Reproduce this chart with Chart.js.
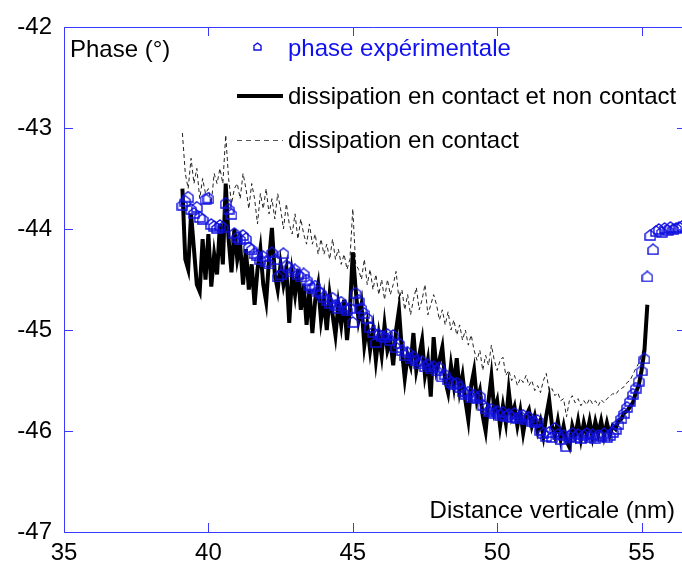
<!DOCTYPE html>
<html>
<head>
<meta charset="utf-8">
<script src="https://cdn.jsdelivr.net/npm/chart.js@4"></script>
<style>
  html, body { margin: 0; padding: 0; background: #fff; }
  canvas { display: block; }
</style>
</head>
<body>
<canvas id="phaseChart" width="682" height="568"></canvas>
<script>
// distance (nm), one value every 0.1 nm
const distance = [
  39.1, 39.2, 39.3, 39.4, 39.5, 39.6, 39.7, 39.8, 39.9, 40.0,
  40.1, 40.2, 40.3, 40.4, 40.5, 40.6, 40.7, 40.8, 40.9, 41.0,
  41.1, 41.2, 41.3, 41.4, 41.5, 41.6, 41.7, 41.8, 41.9, 42.0,
  42.1, 42.2, 42.3, 42.4, 42.5, 42.6, 42.7, 42.8, 42.9, 43.0,
  43.1, 43.2, 43.3, 43.4, 43.5, 43.6, 43.7, 43.8, 43.9, 44.0,
  44.1, 44.2, 44.3, 44.4, 44.5, 44.6, 44.7, 44.8, 44.9, 45.0,
  45.1, 45.2, 45.3, 45.4, 45.5, 45.6, 45.7, 45.8, 45.9, 46.0,
  46.1, 46.2, 46.3, 46.4, 46.5, 46.6, 46.7, 46.8, 46.9, 47.0,
  47.1, 47.2, 47.3, 47.4, 47.5, 47.6, 47.7, 47.8, 47.9, 48.0,
  48.1, 48.2, 48.3, 48.4, 48.5, 48.6, 48.7, 48.8, 48.9, 49.0,
  49.1, 49.2, 49.3, 49.4, 49.5, 49.6, 49.7, 49.8, 49.9, 50.0,
  50.1, 50.2, 50.3, 50.4, 50.5, 50.6, 50.7, 50.8, 50.9, 51.0,
  51.1, 51.2, 51.3, 51.4, 51.5, 51.6, 51.7, 51.8, 51.9, 52.0,
  52.1, 52.2, 52.3, 52.4, 52.5, 52.6, 52.7, 52.8, 52.9, 53.0,
  53.1, 53.2, 53.3, 53.4, 53.5, 53.6, 53.7, 53.8, 53.9, 54.0,
  54.1, 54.2, 54.3, 54.4, 54.5, 54.6, 54.7, 54.8, 54.9, 55.0,
  55.1, 55.2, 55.3, 55.4, 55.5, 55.6, 55.7, 55.8, 55.9, 56.0,
  56.1, 56.2, 56.3, 56.4
];

// phase expérimentale (°)
const phaseExp = [
  -43.76, -43.72, -43.68, -43.80, -43.84, -43.78, -43.88, -43.90, -43.70, -43.69,
  -43.95, -43.97, -43.99, -43.96, -43.98, -43.74, -43.80, -43.85, -44.04, -44.08,
  -44.10, -44.06, -44.09, -44.18, -44.20, -44.24, -44.26, -44.30, -44.27, -44.32,
  -44.34, -44.23, -44.30, -44.47, -44.45, -44.24, -44.36, -44.38, -44.42, -44.40,
  -44.45, -44.47, -44.44, -44.50, -44.55, -44.58, -44.56, -44.61, -44.63, -44.67,
  -44.70, -44.73, -44.68, -44.75, -44.78, -44.72, -44.76, -44.80, -44.78, -44.92,
  -44.63, -44.70, -44.78, -44.83, -44.88, -44.97, -45.02, -45.12, -45.04, -45.06,
  -45.07, -45.04, -45.10, -45.05, -45.17, -45.13, -45.20, -45.25, -45.22, -45.28,
  -45.26, -45.30, -45.33, -45.31, -45.36, -45.34, -45.38, -45.36, -45.40, -45.37,
  -45.46, -45.44, -45.49, -45.51, -45.53, -45.52, -45.56, -45.60, -45.63, -45.61,
  -45.66, -45.64, -45.67, -45.65, -45.74, -45.77, -45.80, -45.78, -45.82, -45.80,
  -45.84, -45.81, -45.85, -45.83, -45.86, -45.82, -45.87, -45.85, -45.84, -45.88,
  -45.86, -45.90, -45.91, -45.89, -45.99, -46.02, -46.05, -46.01, -46.06, -45.97,
  -46.03, -46.08, -46.04, -46.15, -46.05, -46.02, -46.06, -46.03, -46.07, -46.04,
  -46.02, -46.06, -46.03, -46.07, -46.04, -46.05, -46.02, -46.06, -46.04, -46.01,
  -45.98, -45.93, -45.87, -45.82, -45.76, -45.70, -45.63, -45.57, -45.50, -45.40,
  -45.28, -44.47, -44.06, -44.20, -44.02, -44.00, -44.03, -43.99, -44.01, -43.98,
  -44.00, -43.99, -43.98, -43.97
];

// dissipation en contact et non contact (39.1 -> 55.2)
const dissFull = [
  -43.60, -44.30, -44.40, -43.85, -44.20, -44.55, -44.62, -44.10, -44.50, -44.05,
  -44.57, -44.25, -44.45, -43.95, -44.35, -43.55, -44.10, -44.43, -44.00, -44.30,
  -44.15, -44.55, -44.20, -44.60, -44.35, -44.75, -44.40, -44.20, -44.55, -44.72,
  -44.30, -43.99, -44.45, -44.60, -44.35, -44.55, -44.40, -44.93, -44.45, -44.65,
  -44.40, -44.80, -44.55, -44.95, -44.60, -45.03, -44.70, -44.55, -44.90, -44.70,
  -45.00, -44.65, -44.85, -45.05, -44.75, -44.95, -44.70, -45.10, -44.80, -44.23,
  -44.60, -44.90, -44.75, -45.15, -44.95, -45.20, -45.00, -45.30, -45.05, -45.25,
  -44.95, -45.20, -45.10, -45.35, -45.00, -44.80, -45.20, -45.48, -45.25, -45.35,
  -45.03, -45.40, -45.25, -45.10, -45.45, -45.30, -45.66, -45.07, -45.40, -45.30,
  -45.17, -45.50, -45.62, -45.35, -45.55, -45.28, -45.60, -45.45, -45.70, -45.89,
  -45.55, -45.40, -45.70, -45.60, -45.85, -46.00, -45.70, -45.46, -45.80, -45.70,
  -45.95, -45.75, -45.92, -45.60, -45.85, -45.76, -45.95, -45.80, -46.02, -45.85,
  -45.79, -45.95, -45.85, -46.00, -45.90, -46.05, -45.85, -45.69, -45.95, -46.05,
  -45.90, -46.08, -45.95, -46.10, -46.16, -45.95, -46.05, -45.90, -46.08, -45.92,
  -46.04, -45.90, -46.06, -45.91, -46.03, -45.90, -46.05, -45.92, -46.04, -45.95,
  -45.98, -45.90, -45.88, -45.82, -45.80, -45.76, -45.72, -45.62, -45.55, -45.40,
  -45.20, -44.75
];

// dissipation en contact (39.1 -> 55.1)
const dissContact = [
  -43.05, -43.45, -43.60, -43.30, -43.55, -43.40, -43.70, -43.50, -43.65, -43.60,
  -43.75, -43.45, -43.55, -43.40, -43.55, -43.07, -43.50, -43.75, -43.60, -43.55,
  -43.70, -43.45, -43.60, -43.80, -43.55, -43.70, -43.95, -43.65, -43.80, -43.60,
  -43.85, -43.70, -43.90, -43.65, -43.80, -44.00, -43.75, -43.95, -44.05, -43.85,
  -44.10, -43.90, -44.05, -44.15, -43.95, -44.15, -44.05, -44.25, -44.10, -44.25,
  -44.15, -44.30, -44.10, -44.30, -44.20, -44.35, -44.25, -44.40, -44.30, -43.80,
  -44.35, -44.40, -44.50, -44.30, -44.55, -44.40, -44.60, -44.45, -44.65, -44.50,
  -44.70, -44.50, -44.65, -44.55, -44.42, -44.70, -44.60, -44.80, -44.65, -44.85,
  -44.70, -44.58, -44.80, -44.70, -44.55, -44.85, -44.75, -44.65, -44.75, -44.90,
  -44.80, -44.95, -44.82, -45.00, -44.90, -45.05, -44.95, -45.10, -45.00, -45.15,
  -45.05, -45.20, -45.30, -45.20, -45.40, -45.25, -45.35, -45.15, -45.30, -45.40,
  -45.30, -45.27, -45.45, -45.40, -45.50, -45.45, -45.55, -45.48, -45.52, -45.45,
  -45.55, -45.50, -45.60, -45.55, -45.62, -45.50, -45.43, -45.60, -45.58, -45.65,
  -45.62, -45.70, -45.68, -45.86, -45.70, -45.65, -45.72, -45.68, -45.75, -45.70,
  -45.74, -45.68, -45.73, -45.70, -45.75, -45.69, -45.72, -45.68, -45.66, -45.63,
  -45.64, -45.60, -45.58, -45.56, -45.52, -45.50, -45.44, -45.38, -45.33, -45.25,
  -45.15
];

const xTicks = [35, 40, 45, 50, 55];
const yTicks = [-47, -46, -45, -44, -43, -42];

const labels = ['phase expérimentale', 'dissipation en contact et non contact', 'dissipation en contact'];
const yTitle = 'Phase (°)';
const xTitle = 'Distance verticale (nm)';

const FONT = '"Liberation Sans", Arial, sans-serif';
const axisBlue = '#3a3aff';
const markerBlue = '#1010e0';

function pts(xs, ys) {
  return ys.map((v, i) => ({ x: xs[i], y: v }));
}

// little open "house" marker like the original plot
function houseMarker(size) {
  const c = document.createElement('canvas');
  c.width = size; c.height = size;
  const g = c.getContext('2d');
  const s = size - 1;
  g.strokeStyle = markerBlue;
  g.lineWidth = 1.4;
  g.beginPath();
  g.moveTo(size / 2, 1);
  g.lineTo(s, size * 0.4);
  g.lineTo(s, s);
  g.lineTo(1, s);
  g.lineTo(1, size * 0.4);
  g.closePath();
  g.stroke();
  return c;
}
const marker = houseMarker(12);
const smallMarker = houseMarker(9);

const framePlugin = {
  id: 'frame',
  afterDraw(chart) {
    const { ctx, chartArea: a, scales } = chart;
    const x = scales.x, y = scales.y;
    ctx.save();
    ctx.strokeStyle = axisBlue;
    ctx.lineWidth = 1;
    ctx.beginPath();
    ctx.moveTo(a.left + 0.5, a.bottom + 0.5);
    ctx.lineTo(a.left + 0.5, a.top + 0.5);
    ctx.lineTo(a.right, a.top + 0.5);
    ctx.moveTo(a.left, a.bottom + 0.5);
    ctx.lineTo(a.right, a.bottom + 0.5);
    yTicks.forEach(v => {
      const p = Math.round(y.getPixelForValue(v)) + 0.5;
      ctx.moveTo(a.left, p); ctx.lineTo(a.left + 9, p);
      ctx.moveTo(a.right - 5, p); ctx.lineTo(a.right, p);
    });
    xTicks.forEach(v => {
      const p = Math.round(x.getPixelForValue(v)) + 0.5;
      ctx.moveTo(p, a.bottom); ctx.lineTo(p, a.bottom - 9);
      ctx.moveTo(p, a.top); ctx.lineTo(p, a.top + 9);
    });
    ctx.stroke();

    // titles inside the box
    ctx.font = '24px ' + FONT;
    ctx.textBaseline = 'middle';
    ctx.fillStyle = '#000';
    ctx.textAlign = 'left';
    ctx.fillText(yTitle, 70, 50);
    ctx.textAlign = 'right';
    ctx.fillText(xTitle, 675, 511);

    // legend
    ctx.textAlign = 'left';
    ctx.drawImage(smallMarker, 253, 42);
    ctx.fillStyle = '#1010f0';
    ctx.fillText(labels[0], 288, 49);

    ctx.strokeStyle = '#000';
    ctx.lineWidth = 4;
    ctx.beginPath();
    ctx.moveTo(237, 96); ctx.lineTo(283, 96);
    ctx.stroke();
    ctx.fillStyle = '#000';
    ctx.fillText(labels[1], 288, 97);

    ctx.strokeStyle = '#555';
    ctx.lineWidth = 1;
    ctx.setLineDash([5, 4]);
    ctx.beginPath();
    ctx.moveTo(237, 140.5); ctx.lineTo(283, 140.5);
    ctx.stroke();
    ctx.setLineDash([]);
    ctx.fillText(labels[2], 288, 141);
    ctx.restore();
  }
};

const ctx = document.getElementById('phaseChart').getContext('2d');
const phaseChart = new Chart(ctx, {
  type: 'scatter',
  data: {
    datasets: [
      {
        label: labels[0],
        data: pts(distance, phaseExp),
        showLine: false,
        pointStyle: marker,
        pointRadius: 6,
        order: 0
      },
      {
        label: labels[1],
        data: pts(distance, dissFull),
        showLine: true,
        borderColor: '#000',
        borderWidth: 4,
        pointRadius: 0,
        tension: 0,
        order: 1
      },
      {
        label: labels[2],
        data: pts(distance, dissContact),
        showLine: true,
        borderColor: '#222',
        borderWidth: 1,
        borderDash: [4, 3],
        pointRadius: 0,
        tension: 0,
        order: 2
      }
    ]
  },
  options: {
    responsive: false,
    animation: false,
    devicePixelRatio: 1,
    layout: { autoPadding: false, padding: { top: 27, right: 0, left: 0, bottom: 0 } },
    plugins: { legend: { display: false }, tooltip: { enabled: false } },
    scales: {
      x: {
        type: 'linear',
        min: 35,
        max: 56.4,
        afterBuildTicks: scale => { scale.ticks = xTicks.map(v => ({ value: v })); },
        afterFit: scale => { scale.height = 36; scale.paddingLeft = 0; scale.paddingRight = 0; },
        ticks: { color: '#000', font: { size: 24, family: FONT }, padding: 7, maxRotation: 0 },
        grid: { display: false, drawTicks: false },
        border: { display: false }
      },
      y: {
        type: 'linear',
        min: -47,
        max: -42,
        afterBuildTicks: scale => { scale.ticks = yTicks.map(v => ({ value: v })); },
        afterFit: scale => { scale.width = 64; scale.paddingTop = 0; scale.paddingBottom = 0; },
        ticks: { color: '#000', font: { size: 24, family: FONT }, padding: 12 },
        grid: { display: false, drawTicks: false },
        border: { display: false }
      }
    }
  },
  plugins: [framePlugin]
});
</script>
</body>
</html>
